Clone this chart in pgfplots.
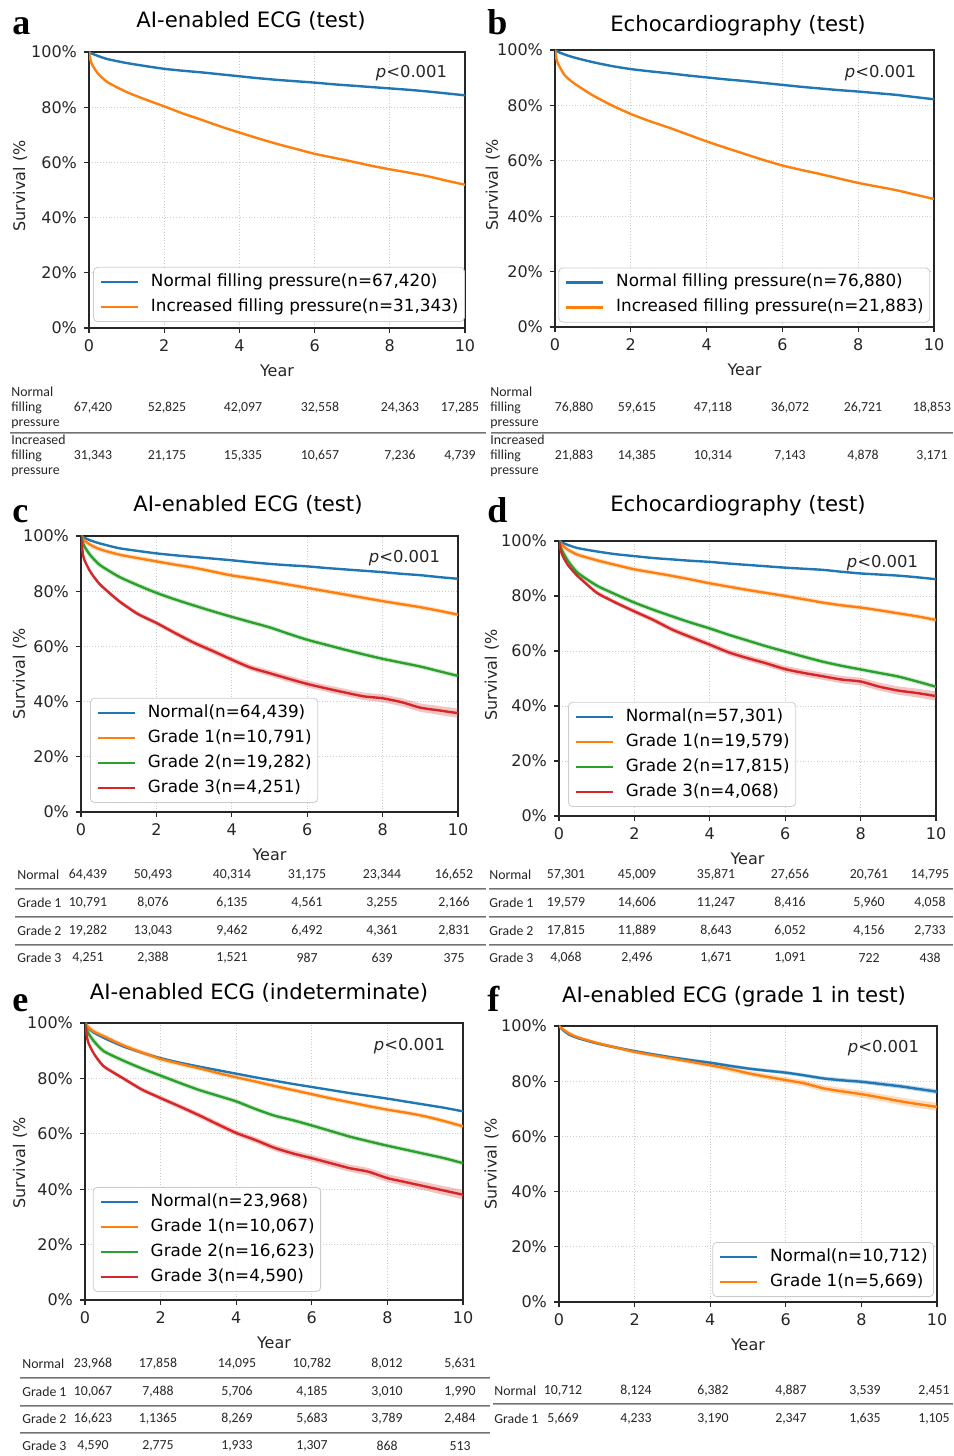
\documentclass[border=0pt]{standalone}
\usepackage{pgfplots}
\pgfplotsset{compat=1.18}
\usepackage{pgfplotstable}
\usepackage{fontspec}
\setmainfont{DejaVu Sans}
\newfontfamily\tabfont{Carlito}
\newfontfamily\letfont{Liberation Serif}
\definecolor{tblue}{HTML}{1F77B4}
\definecolor{torange}{HTML}{FF7F0E}
\definecolor{tgreen}{HTML}{2CA02C}
\definecolor{tred}{HTML}{D62728}

\pgfplotstableread{
t b o
0 100 100
0.05 99.6 96.5
0.1 99.3 95.0
0.25 98.5 92.0
0.5 97.4 89.0
1 96.0 85.5
1.5 94.9 82.8
2 93.9 80.3
2.5 93.2 77.7
3 92.6 75.4
3.5 91.9 73.0
4 91.2 70.8
4.5 90.5 68.7
5 89.9 66.7
5.5 89.4 64.9
6 88.9 63.1
6.5 88.3 61.7
7 87.8 60.3
7.5 87.3 58.8
8 86.8 57.5
8.5 86.3 56.3
9 85.7 55.0
9.5 85.0 53.4
10 84.3 51.9
}\dataA

\pgfplotstableread{
t b o
0 100 100
0.05 99.6 96.0
0.1 99.2 94.5
0.25 98.4 91.0
0.5 97.3 88.0
1 95.6 83.6
1.5 94.2 80.0
2 93.1 76.9
2.5 92.3 74.3
3 91.6 72.0
3.5 90.8 69.5
4 90.1 67.0
4.5 89.4 64.7
5 88.8 62.5
5.5 88.1 60.3
6 87.4 58.3
6.5 86.7 56.7
7 86.1 55.2
7.5 85.5 53.6
8 85.0 52.0
8.5 84.4 50.7
9 83.8 49.4
9.5 83.0 47.8
10 82.2 46.2
}\dataB

\pgfplotstableread{
t b o g r
0 100 100 100 100
0.05 99.6 99.0 97.5 93.5
0.1 99.3 98.3 96.0 91.0
0.25 98.4 96.8 93.0 87.0
0.5 97.3 95.2 89.5 82.5
1 95.6 93.3 85.3 76.5
1.5 94.6 92.0 82.2 71.8
2 93.7 90.8 79.4 68.5
2.5 93.0 89.6 77.0 64.8
3 92.4 88.5 74.8 61.3
3.5 91.8 87.1 72.7 58.3
4 91.2 85.7 70.7 55.2
4.5 90.5 84.7 68.8 52.3
5 89.9 83.6 66.9 50.3
5.5 89.4 82.4 64.6 48.3
6 89.0 81.2 62.4 46.4
6.5 88.4 80.0 60.6 44.8
7 87.9 78.8 58.8 43.3
7.5 87.4 77.6 57.1 41.9
8 86.9 76.4 55.5 41.2
8.5 86.3 75.3 54.1 39.8
9 85.8 74.2 52.7 37.8
9.5 85.1 72.9 51.0 36.8
10 84.5 71.5 49.3 35.8
}\dataC

\pgfplotstableread{
t v
0 100
0.05 94.0
0.1 91.55
0.25 87.6
0.5 83.2
1 77.25
1.5 72.6
2 69.35
2.5 65.7
3 62.25
3.5 59.3
4 56.2
4.5 53.35
5 51.4
5.5 49.45
6 47.6
6.5 46.05
7 44.6
7.5 43.25
8 42.6
8.5 41.25
9 39.3
9.5 38.4
10 37.5
10 34.1
9.5 35.2
9 36.3
8.5 38.35
8 39.8
7.5 40.55
7 42.0
6.5 43.55
6 45.2
5.5 47.15
5 49.2
4.5 51.25
4 54.2
3.5 57.3
3 60.35
2.5 63.9
2 67.65
1.5 71.0
1 75.75
0.5 81.8
0.25 86.4
0.1 90.45
0.05 93.0
0 100
}\bandC

\pgfplotstableread{
t b o g r
0 100 100 100 100
0.05 99.6 99.0 97.5 96.5
0.1 99.3 98.3 96.0 94.5
0.25 98.5 96.7 92.5 91.0
0.5 97.4 95.0 88.4 87.2
1 96.2 93.0 83.8 81.2
1.5 95.2 91.3 80.6 77.6
2 94.5 89.7 77.6 74.4
2.5 93.8 88.5 75.0 71.3
3 93.3 87.3 72.6 67.8
3.5 92.8 86.0 70.3 65.0
4 92.4 84.6 68.2 62.3
4.5 91.8 83.4 65.9 59.5
5 91.3 82.2 63.8 57.4
5.5 90.8 81.1 61.7 55.5
6 90.3 80.0 59.8 53.4
6.5 89.9 78.8 57.9 52.0
7 89.5 77.6 56.1 50.8
7.5 88.8 76.6 54.6 49.6
8 88.2 75.8 53.3 48.9
8.5 87.8 74.8 52.0 47.0
9 87.4 73.7 50.7 45.6
9.5 86.8 72.6 48.9 44.7
10 86.1 71.3 47.0 43.6
}\dataD

\pgfplotstableread{
t v
0 100
0.05 97.0
0.1 95.05
0.25 91.6
0.5 87.9
1 81.95
1.5 78.4
2 75.25
2.5 72.2
3 68.75
3.5 66.0
4 63.3
4.5 60.55
5 58.5
5.5 56.65
6 54.6
6.5 53.25
7 52.1
7.5 50.95
8 50.3
8.5 48.45
9 47.1
9.5 46.3
10 45.3
10 41.9
9.5 43.1
9 44.1
8.5 45.55
8 47.5
7.5 48.25
7 49.5
6.5 50.75
6 52.2
5.5 54.35
5 56.3
4.5 58.45
4 61.3
3.5 64.0
3 66.85
2.5 70.4
2 73.55
1.5 76.8
1 80.45
0.5 86.5
0.25 90.4
0.1 93.95
0.05 96.0
0 100
}\bandD

\pgfplotstableread{
t b o g r
0 100 100 100 100
0.05 98.8 99.0 97.5 95.0
0.1 98.0 98.3 96.0 92.5
0.25 96.4 96.8 93.2 88.6
0.5 94.6 95.2 89.8 84.3
1 91.6 92.0 86.5 80.1
1.5 89.3 89.4 83.6 76.0
2 87.3 87.0 81.0 72.9
2.5 85.7 85.3 78.4 69.9
3 84.3 83.7 75.9 66.8
3.5 83.0 82.0 73.8 63.5
4 81.7 80.4 71.7 60.3
4.5 80.4 78.9 69.0 57.8
5 79.2 77.3 66.6 55.0
5.5 78.0 75.8 64.9 52.9
6 76.9 74.3 63.0 51.2
6.5 75.8 72.8 61.0 49.4
7 74.7 71.4 59.0 47.6
7.5 73.7 70.0 57.3 46.3
8 72.7 68.7 55.7 44.0
8.5 71.6 67.6 54.2 42.5
9 70.5 66.3 52.7 41.0
9.5 69.4 64.6 51.2 39.5
10 68.1 62.7 49.4 38.0
}\dataE

\pgfplotstableread{
t v
0 100
0.05 95.5
0.1 93.05
0.25 89.2
0.5 85.0
1 80.85
1.5 76.8
2 73.75
2.5 70.8
3 67.75
3.5 64.5
4 61.3
4.5 58.85
5 56.1
5.5 54.05
6 52.4
6.5 50.65
7 48.9
7.5 47.65
8 45.4
8.5 43.95
9 42.5
9.5 41.1
10 39.7
10 36.3
9.5 37.9
9 39.5
8.5 41.05
8 42.6
7.5 44.95
7 46.3
6.5 48.15
6 50.0
5.5 51.75
5 53.9
4.5 56.75
4 59.3
3.5 62.5
3 65.85
2.5 69.0
2 72.05
1.5 75.2
1 79.35
0.5 83.6
0.25 88.0
0.1 91.95
0.05 94.5
0 100
}\bandE

\pgfplotstableread{
t b o
0 100 100
0.05 99.2 99.4
0.1 98.6 98.9
0.25 97.0 97.4
0.5 95.6 95.9
1 93.7 93.9
1.5 92.2 92.2
2 90.9 90.6
2.5 89.7 89.4
3 88.6 88.2
3.5 87.6 87.0
4 86.7 85.8
4.5 85.6 84.5
5 84.6 82.9
5.5 83.8 81.6
6 83.1 80.4
6.5 82.1 79.2
7 81.0 77.4
7.5 80.3 76.3
8 79.8 75.3
8.5 79.0 74.1
9 78.2 72.8
9.5 77.2 71.7
10 76.2 70.7
}\dataF

\pgfplotstableread{
t v
0 100
0.1 98.85
0.5 95.95
1 94.1
2 91.35
3 89.1
4 87.25
5 85.2
6 83.75
7 81.7
8 80.56
9 79.03
10 77.1
10 75.3
9 77.37
8 79.04
7 80.3
6 82.45
5 84.0
4 86.15
3 88.1
2 90.45
1 93.3
0.5 95.25
0.1 98.35
0 100
}\bandFb

\pgfplotstableread{
t v
0 100
0.1 99.25
0.5 96.35
1 94.45
2 91.25
3 88.95
4 86.65
5 83.85
5.5 82.6
6 81.45
6.5 80.3
7 78.55
7.5 77.5
8 76.55
8.5 75.4
9 74.15
9.5 73.1
10 72.15
10 69.25
9.5 70.3
9 71.45
8.5 72.8
8 74.05
7.5 75.1
7 76.25
6.5 78.1
6 79.35
5.5 80.6
5 81.95
4 84.95
3 87.45
2 89.95
1 93.35
0.5 95.45
0.1 98.55
0 100
}\bandFo

\pgfplotsset{
  km/.style={
    scale only axis,
    xmin=0, xmax=10, ymin=0, ymax=100,
    xtick={0,2,4,6,8,10},
    ytick={0,20,40,60,80,100},
    yticklabels={0\%,20\%,40\%,60\%,80\%,100\%},
    /pgf/number format/assume math mode=true,
    tick label style={font=\fontsize{8}{9}\selectfont, text=black!85},
    tick align=outside, tick pos=left,
    major tick length=2.5pt,
    tick style={black!85, line width=0.6pt},
    axis line style={black!85, line width=0.6pt},
    grid=major, grid style={densely dotted, black!20, line width=0.4pt},
    xlabel={Year}, ylabel={Survival (\%},
    label style={font=\fontsize{8}{9}\selectfont, text=black!85},
    xlabel style={at={(axis description cs:0.5,-0.155)}, anchor=center},
    ylabel style={anchor=center},
    legend cell align=left,
    legend style={font=\fontsize{8.4}{10}\selectfont, draw=black!20, rounded corners=2pt,
      fill=white, fill opacity=0.8, text opacity=1, inner xsep=3pt, inner ysep=3.2pt,
      row sep=4.3pt, column sep=6pt,
      nodes={inner sep=0pt, text height=6.3pt, text depth=1.9pt}},
    legend image code/.code={\draw[##1, line width=1.2pt] (0pt,0pt) -- (18.5pt,0pt);},
  },
  kml/.style={line width=1.2pt, no markers, smooth, tension=0.4},
  halo/.style={line width=2.3pt, draw opacity=0.22, no markers, smooth, tension=0.4, forget plot},
  cib/.style={draw=none, fill=#1, fill opacity=0.28, no markers, forget plot},
}
\tikzset{
  pval/.style={anchor=east, font=\fontsize{8.2}{9}\selectfont, text=black!85},
  tnum/.style={font=\tabfont\fontsize{6.9}{8}\selectfont, text=black!85, anchor=center, inner sep=0pt},
  tlab/.style={font=\tabfont\fontsize{6.9}{8}\selectfont, text=black!85, anchor=west, inner sep=0pt},
  tline/.style={line width=0.5pt},
  ttl/.style={font=\fontsize{10.6}{12}\selectfont, anchor=base},
  let/.style={font=\letfont\bfseries\fontsize{18}{20}\selectfont, anchor=base west, inner sep=0pt},
}
\newcommand\setcols[6]{\def\ca{#1}\def\cb{#2}\def\cc{#3}\def\cd{#4}\def\ce{#5}\def\cf{#6}}
\newcommand\sixrow[7]{%
  \node[tnum] at (\ca,#1) {#2}; \node[tnum] at (\cb,#1) {#3}; \node[tnum] at (\cc,#1) {#4};
  \node[tnum] at (\cd,#1) {#5}; \node[tnum] at (\ce,#1) {#6}; \node[tnum] at (\cf,#1) {#7};}
\newcommand\dline[3]{\draw[tline, black!55] (#1,#3-0.8) -- (#2,#3-0.8); \draw[tline, black!35] (#1,#3+0.8) -- (#2,#3+0.8);}

\begin{document}
\begin{tikzpicture}
\useasboundingbox (0pt,0pt) rectangle (476.5pt,728pt);

% ---------- a ----------
\begin{axis}[km, at={(44.5pt,564pt)}, anchor=south west, width=188pt, height=138pt,
  ylabel style={at={(axis description cs:-0.183,0.515)}},
  legend style={at={(axis description cs:0.011,0.022)}, anchor=south west}]
\addplot[kml, tblue] table[x=t,y=b]{\dataA}; \addlegendentry{Normal filling pressure(n=67,420)}
\addplot[kml, torange] table[x=t,y=o]{\dataA}; \addlegendentry{Increased filling pressure(n=31,343)}
\node[pval] at (rel axis cs:0.971,0.925) {\textit{p}<0.001};
\end{axis}

% ---------- b ----------
\begin{axis}[km, at={(277.5pt,564.5pt)}, anchor=south west, width=189.5pt, height=138.5pt,
  ylabel style={at={(axis description cs:-0.164,0.513)}},
  legend style={at={(axis description cs:0.009,0.016)}, anchor=south west}]
\addplot[kml, tblue] table[x=t,y=b]{\dataB}; \addlegendentry{Normal filling pressure(n=76,880)}
\addplot[kml, torange] table[x=t,y=o]{\dataB}; \addlegendentry{Increased filling pressure(n=21,883)}
\node[pval] at (rel axis cs:0.971,0.918) {\textit{p}<0.001};
\end{axis}

% ---------- c ----------
\begin{axis}[km, at={(40.5pt,322pt)}, anchor=south west, width=188.5pt, height=138pt,
  ylabel style={at={(axis description cs:-0.162,0.5)}},
  legend style={at={(axis description cs:0.024,0.033)}, anchor=south west}]
\addplot[cib=tred] table[x=t,y=v]{\bandC};
\addplot[halo, torange] table[x=t,y=o]{\dataC};
\addplot[halo, tgreen] table[x=t,y=g]{\dataC};
\addplot[kml, tblue] table[x=t,y=b]{\dataC}; \addlegendentry{Normal(n=64,439)}
\addplot[kml, torange] table[x=t,y=o]{\dataC}; \addlegendentry{Grade 1(n=10,791)}
\addplot[kml, tgreen] table[x=t,y=g]{\dataC}; \addlegendentry{Grade 2(n=19,282)}
\addplot[kml, tred] table[x=t,y=r]{\dataC}; \addlegendentry{Grade 3(n=4,251)}
\node[pval] at (rel axis cs:0.971,0.92) {\textit{p}<0.001};
\end{axis}

% ---------- d ----------
\begin{axis}[km, at={(279.5pt,320pt)}, anchor=south west, width=188.5pt, height=137.5pt,
  ylabel style={at={(axis description cs:-0.178,0.513)}},
  legend style={at={(axis description cs:0.024,0.033)}, anchor=south west}]
\addplot[cib=tred] table[x=t,y=v]{\bandD};
\addplot[halo, torange] table[x=t,y=o]{\dataD};
\addplot[halo, tgreen] table[x=t,y=g]{\dataD};
\addplot[kml, tblue] table[x=t,y=b]{\dataD}; \addlegendentry{Normal(n=57,301)}
\addplot[kml, torange] table[x=t,y=o]{\dataD}; \addlegendentry{Grade 1(n=19,579)}
\addplot[kml, tgreen] table[x=t,y=g]{\dataD}; \addlegendentry{Grade 2(n=17,815)}
\addplot[kml, tred] table[x=t,y=r]{\dataD}; \addlegendentry{Grade 3(n=4,068)}
\node[pval] at (rel axis cs:0.971,0.92) {\textit{p}<0.001};
\end{axis}

% ---------- e ----------
\begin{axis}[km, at={(42.5pt,78pt)}, anchor=south west, width=189pt, height=138.5pt,
  ylabel style={at={(axis description cs:-0.172,0.495)}},
  legend style={at={(axis description cs:0.021,0.029)}, anchor=south west}]
\addplot[cib=tred] table[x=t,y=v]{\bandE};
\addplot[halo, torange] table[x=t,y=o]{\dataE};
\addplot[halo, tgreen] table[x=t,y=g]{\dataE};
\addplot[kml, tblue] table[x=t,y=b]{\dataE}; \addlegendentry{Normal(n=23,968)}
\addplot[kml, torange] table[x=t,y=o]{\dataE}; \addlegendentry{Grade 1(n=10,067)}
\addplot[kml, tgreen] table[x=t,y=g]{\dataE}; \addlegendentry{Grade 2(n=16,623)}
\addplot[kml, tred] table[x=t,y=r]{\dataE}; \addlegendentry{Grade 3(n=4,590)}
\node[pval] at (rel axis cs:0.971,0.917) {\textit{p}<0.001};
\end{axis}

% ---------- f ----------
\begin{axis}[km, at={(279.5pt,77pt)}, anchor=south west, width=189pt, height=138pt,
  ylabel style={at={(axis description cs:-0.178,0.5)}},
  legend style={at={(axis description cs:0.992,0.018)}, anchor=south east}]
\addplot[cib=tblue] table[x=t,y=v]{\bandFb};
\addplot[cib=torange] table[x=t,y=v]{\bandFo};
\addplot[kml, tblue] table[x=t,y=b]{\dataF}; \addlegendentry{Normal(n=10,712)}
\addplot[kml, torange] table[x=t,y=o]{\dataF}; \addlegendentry{Grade 1(n=5,669)}
\node[pval] at (rel axis cs:0.971,0.92) {\textit{p}<0.001};
\end{axis}

% ---------- texts in pixel coordinates ----------
\begin{scope}[x=0.5pt, y=-0.5pt, yshift=728pt]
\node[let] at (12,35) {a};
\node[let] at (487,35) {b};
\node[let] at (12,523) {c};
\node[let] at (487,523) {d};
\node[let] at (12,1012) {e};
\node[let] at (487,1012) {f};
\node[ttl] at (251,28) {AI-enabled ECG (test)};
\node[ttl] at (738,32) {Echocardiography (test)};
\node[ttl] at (248,512) {AI-enabled ECG (test)};
\node[ttl] at (738,512) {Echocardiography (test)};
\node[ttl] at (259,1000) {AI-enabled ECG (indeterminate)};
\node[ttl] at (734,1003) {AI-enabled ECG (grade 1 in test)};

% table a
\node[tlab] at (11,392) {Normal};
\node[tlab] at (11,408) {filling};
\node[tlab] at (11,424) {pressure};
\node[tlab] at (11,440) {Increased};
\node[tlab] at (11,456) {filling};
\node[tlab] at (11,472) {pressure};
\setcols{93}{167}{243}{320}{400}{460}
\sixrow{408}{67,420}{52,825}{42,097}{32,558}{24,363}{17,285}
\sixrow{456}{31,343}{21,175}{15,335}{10,657}{7,236}{4,739}
\dline{10}{486}{433}
% table b
\node[tlab] at (490,392) {Normal};
\node[tlab] at (490,408) {filling};
\node[tlab] at (490,424) {pressure};
\node[tlab] at (490,440) {Increased};
\node[tlab] at (490,456) {filling};
\node[tlab] at (490,472) {pressure};
\setcols{574}{637}{713}{790}{863}{932}
\sixrow{408}{76,880}{59,615}{47,118}{36,072}{26,721}{18,853}
\sixrow{456}{21,883}{14,385}{10,314}{7,143}{4,878}{3,171}
\dline{491}{953}{433}

% table c
\node[tlab] at (17,875) {Normal};
\node[tlab] at (17,903) {Grade 1};
\node[tlab] at (17,931) {Grade 2};
\node[tlab] at (17,958) {Grade 3};
\setcols{88}{153}{232}{307}{382}{454}
\sixrow{875}{64,439}{50,493}{40,314}{31,175}{23,344}{16,652}
\sixrow{903}{10,791}{8,076}{6,135}{4,561}{3,255}{2,166}
\sixrow{931}{19,282}{13,043}{9,462}{6,492}{4,361}{2,831}
\sixrow{958}{4,251}{2,388}{1,521}{987}{639}{375}
\dline{15}{486}{889}
\dline{15}{486}{917}
\dline{15}{486}{945}
% table d
\node[tlab] at (489,875) {Normal};
\node[tlab] at (489,903) {Grade 1};
\node[tlab] at (489,931) {Grade 2};
\node[tlab] at (489,958) {Grade 3};
\setcols{566}{637}{716}{790}{869}{930}
\sixrow{875}{57,301}{45,009}{35,871}{27,656}{20,761}{14,795}
\sixrow{903}{19,579}{14,606}{11,247}{8,416}{5,960}{4,058}
\sixrow{931}{17,815}{11,889}{8,643}{6,052}{4,156}{2,733}
\sixrow{958}{4,068}{2,496}{1,671}{1,091}{722}{438}
\dline{489}{953}{889}
\dline{489}{953}{917}
\dline{489}{953}{945}

% table e
\node[tlab] at (22,1364) {Normal};
\node[tlab] at (22,1392) {Grade 1};
\node[tlab] at (22,1419) {Grade 2};
\node[tlab] at (22,1446) {Grade 3};
\setcols{93}{158}{237}{312}{387}{460}
\sixrow{1364}{23,968}{17,858}{14,095}{10,782}{8,012}{5,631}
\sixrow{1392}{10,067}{7,488}{5,706}{4,185}{3,010}{1,990}
\sixrow{1419}{16,623}{1,1365}{8,269}{5,683}{3,789}{2,484}
\sixrow{1446}{4,590}{2,775}{1,933}{1,307}{868}{513}
\dline{20}{490}{1378}
\dline{20}{490}{1406}
\dline{20}{490}{1433}
% table f
\node[tlab] at (494,1391) {Normal};
\node[tlab] at (494,1419) {Grade 1};
\setcols{563}{636}{713}{791}{865}{934}
\sixrow{1391}{10,712}{8,124}{6,382}{4,887}{3,539}{2,451}
\sixrow{1419}{5,669}{4,233}{3,190}{2,347}{1,635}{1,105}
\dline{493}{953}{1404}
\end{scope}
\end{tikzpicture}
\end{document}
